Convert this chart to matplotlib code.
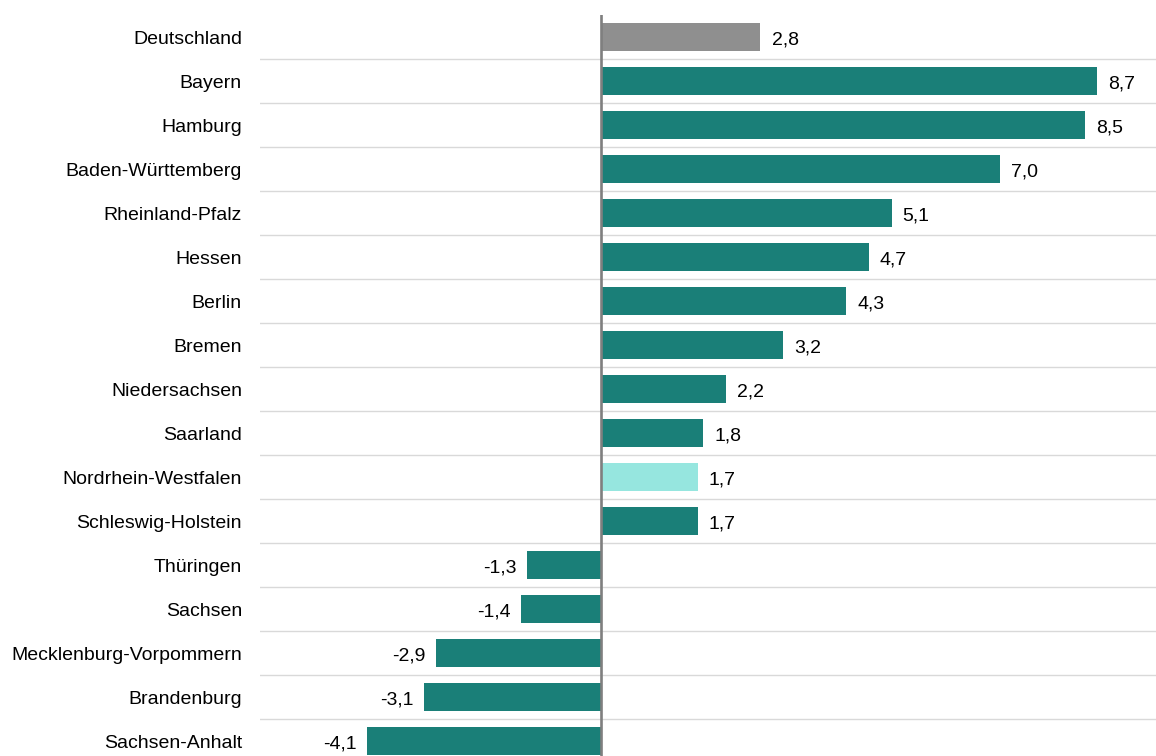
import matplotlib
matplotlib.use("Agg")
import matplotlib.pyplot as plt

categories = ["Deutschland", "Bayern", "Hamburg", "Baden-Württemberg", "Rheinland-Pfalz",
              "Hessen", "Berlin", "Bremen", "Niedersachsen", "Saarland",
              "Nordrhein-Westfalen", "Schleswig-Holstein", "Thüringen", "Sachsen",
              "Mecklenburg-Vorpommern", "Brandenburg", "Sachsen-Anhalt"]
values = [2.8, 8.7, 8.5, 7.0, 5.1, 4.7, 4.3, 3.2, 2.2, 1.8, 1.7, 1.7,
          -1.3, -1.4, -2.9, -3.1, -4.1]

TEAL = "#1A7F78"
GRAY = "#8F8F8F"
LIGHT = "#96E6DF"
colors = []
for c in categories:
    if c == "Deutschland":
        colors.append(GRAY)
    elif c == "Nordrhein-Westfalen":
        colors.append(LIGHT)
    else:
        colors.append(TEAL)

plt.rcParams['font.family'] = ['Liberation Sans', 'DejaVu Sans']
W, H = 1156, 756
fig = plt.figure(figsize=(W / 100, H / 100), dpi=100)
left_px, right_px, top_px, bottom_px = 260, 1156, 15, 763
ax = fig.add_axes([left_px / W, (H - bottom_px) / H, (right_px - left_px) / W,
                   (bottom_px - top_px) / H])

n = len(categories)
ypos = list(range(n))
ax.barh(ypos, values, height=0.65, color=colors, edgecolor='none', zorder=2)

ax.set_ylim(n - 0.5, -0.5)
ax.set_xlim(-5.98, 9.74)

# separators between rows
for i in range(n - 1):
    ax.axhline(i + 0.5, color="#D9D9D9", lw=1.0, zorder=1)
ax.axvline(0, color="#7F7F7F", lw=1.9, zorder=3)

fs = 14
for y, v in zip(ypos, values):
    lab = f"{v:.1f}".replace(".", ",")
    if v >= 0:
        ax.annotate(lab, (v, y), xytext=(8, -2), textcoords="offset points",
                    ha="left", va="center", fontsize=fs, color="#000000")
    else:
        ax.annotate(lab, (v, y), xytext=(-7.5, -2), textcoords="offset points",
                    ha="right", va="center", fontsize=fs, color="#000000")

ax.set_yticks(ypos)
ax.set_yticklabels(categories, fontsize=fs)
ax.tick_params(axis='y', length=0, pad=13)
ax.set_xticks([])
for s in ax.spines.values():
    s.set_visible(False)

fig.savefig("out.png", dpi=100)
